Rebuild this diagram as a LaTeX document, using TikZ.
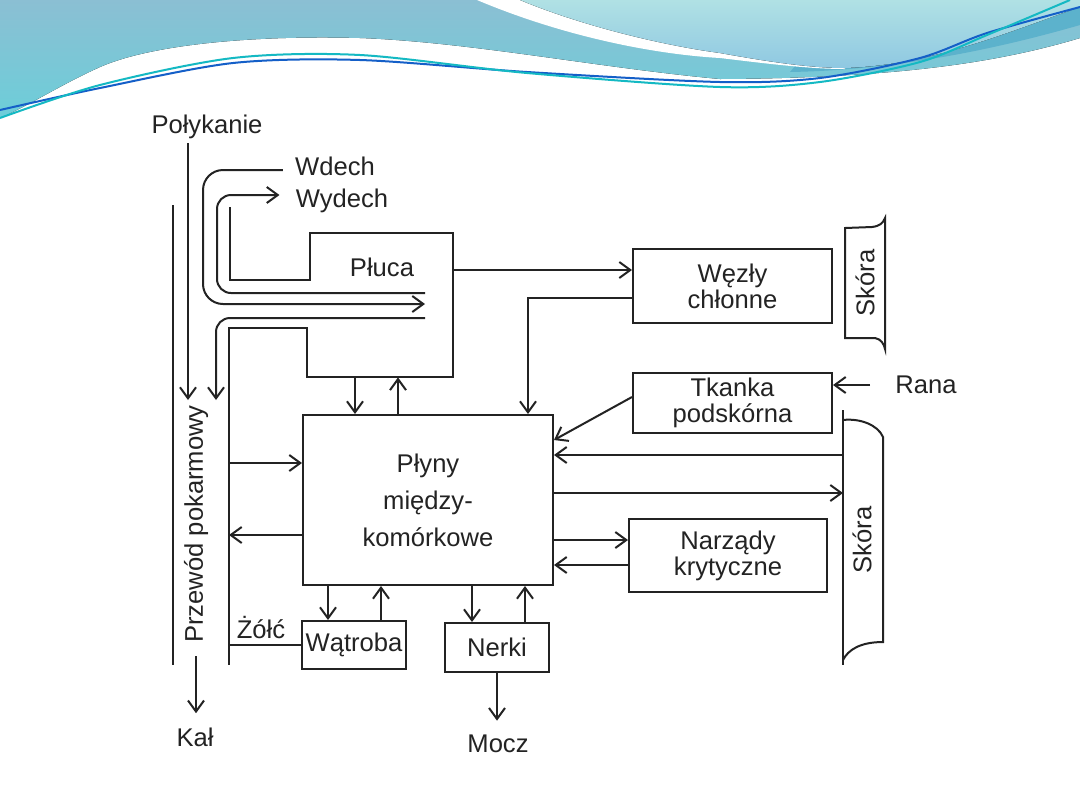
\documentclass[tikz,border=0pt]{standalone}
\usepackage{fontspec}
\setmainfont{Liberation Sans}
\usetikzlibrary{arrows.meta,calc}
\definecolor{inkcolor}{RGB}{35,35,35}
\definecolor{waveTop}{RGB}{139,191,211}
\definecolor{waveLow}{RGB}{108,206,217}
\definecolor{waveBand}{RGB}{92,178,204}
\definecolor{paleTop}{RGB}{176,225,228}
\definecolor{paleLow}{RGB}{143,200,226}
\definecolor{lineTeal}{RGB}{20,185,195}
\definecolor{lineBlue}{RGB}{20,95,200}

\tikzset{
  box/.style={draw=inkcolor, line width=1pt, inner sep=0pt, align=center, text=inkcolor,
    font=\fontsize{12.8}{13}\selectfont},
  lbl/.style={text=inkcolor, font=\fontsize{12.8}{13}\selectfont, inner sep=2pt},
  arr/.style={-{Straight Barb[length=5.5pt,width=8pt]}, draw=inkcolor, line width=1pt},
  wall/.style={draw=inkcolor, line width=1pt},
}

\begin{document}
\begin{tikzpicture}[x=0.5pt, y=-0.5pt]
\useasboundingbox (0,0) rectangle (1080,810);
\fill[white] (0,0) rectangle (1080,810);

% ================= HEADER WAVES =================
\fill[top color=waveTop, bottom color=waveLow]
  (0,0) -- (1080,0) -- (1080,38) .. controls (1000,62) and (900,78) .. (720,79)
  .. controls (600,68) and (470,42) .. (360,38) .. controls (250,35) and (150,45) .. (100,67)
  .. controls (60,85) and (30,105) .. (0,118) -- cycle;
\fill[waveBand] (790,72) .. controls (900,70) and (1000,48) .. (1080,25) -- (1080,0) -- (850,0) -- cycle;
\fill[white] (477,0) .. controls (560,35) and (650,54) .. (720,58)
  .. controls (770,64) and (810,69) .. (845,69) -- (845,0) -- cycle;
\fill[top color=paleTop, bottom color=paleLow]
  (520,0) .. controls (580,25) and (660,45) .. (720,53) .. controls (770,62) and (810,68) .. (845,68)
  .. controls (930,65) and (1000,35) .. (1080,7) -- (1080,0) -- cycle;
\draw[lineBlue, line width=1pt] plot[smooth] coordinates
  {(0,110) (100,88) (233,63) (360,60) (527,72) (720,82) (820,78) (920,58) (987,33) (1080,7)};
\draw[lineTeal, line width=1pt] plot[smooth] coordinates
  {(0,118) (100,85) (233,58) (360,55) (527,73) (720,87) (820,82) (920,62) (987,35) (1070,0)};

% ================= BOXES =================
\node[box, minimum width=125pt, minimum height=85pt, font=\fontsize{12.8}{18.5}\selectfont]
  (plyny) at (428,500) {Płyny\\między-\\komórkowe};
\node[box, minimum width=52pt, minimum height=24pt] (watroba) at (354,645) {Wątroba};
\node[box, minimum width=52pt, minimum height=24.5pt] (nerki) at (497,647.5) {Nerki};
\node[box, minimum width=99.5pt, minimum height=37pt] (wezly) at (732.5,286) {Węzły\\chłonne};
\node[box, minimum width=99.5pt, minimum height=30pt] (tkanka) at (732.5,403) {Tkanka\\podskórna};
\node[box, minimum width=99pt, minimum height=36.5pt] (narzady) at (728,555.5) {Narządy\\krytyczne};
\node[minimum width=73pt, minimum height=72pt, inner sep=0pt] (pluca) at (380,305) {};

% ================= LABELS =================
\node[lbl] (polykanie) at (207,127) {Połykanie};
\node[lbl] (wdech) at (335,166) {Wdech};
\node[lbl] (wydech) at (342,201) {Wydech};
\node[lbl] (plucaLbl) at (382,267) {Płuca};
\node[lbl] (rana) at (926,385) {Rana};
\node[lbl] (zolc) at (261,628) {Żółć};
\node[lbl] (kal) at (195,737) {Kał};
\node[lbl] (mocz) at (498,744) {Mocz};
\node[lbl, rotate=90] (przewod) at (196,524) {Przewód pokarmowy};
\node[lbl, rotate=90] (skora1) at (865,283) {Skóra};
\node[lbl, rotate=90] (skora2) at (862,540) {Skóra};

% ================= GUT AND LUNG WALLS =================
\coordinate (tubeR) at (229,665);
\coordinate (skinL) at (843,540);
\draw[wall] (173,205) -- (173,665);
\draw[wall] (230,207) -- (230,280) -- (310,280) -- (310,233) -- (453,233) -- (453,377)
  -- (307,377) -- (307,328) -- (229,328) -- (tubeR);

% skin
\draw[wall] (845,228) -- (845,338) -- (875,338) .. controls (881,339) and (884,344) .. (885,349)
  -- (885,218) .. controls (883,223) and (880,226) .. (872,227) -- cycle;
\draw[wall] (843,410) -- (843,665);
\draw[wall] (843,420) .. controls (860,418) and (878,425) .. (883,437) -- (883,642)
  .. controls (860,642) and (848,650) .. (843,660);

% airways
\draw[arr, rounded corners=10pt] ([shift={(-4pt,-2pt)}]wdech.west) -| (203,304) -- (425,304);
\draw[arr, rounded corners=7pt] (425,293) -| (217,195) -- ([shift={(-6pt,3pt)}]wydech.west);
\coordinate (gutB) at (216,400);
\draw[arr, rounded corners=7pt] (425,318) -| (gutB);
\coordinate (gutA) at (188,400);
\draw[arr] ([xshift=-9.5pt]polykanie.south) -- (gutA);
\draw[arr, shorten <=4.5pt, shorten >=5pt] (przewod.west) -- (przewod.west |- kal.north);

% ================= CONNECTORS =================
\draw[arr] ([xshift=-12.5pt]pluca.south) -- ([xshift=-12.5pt]pluca.south |- plyny.north);
\draw[arr] ([xshift=9pt]pluca.south |- plyny.north) -- ([xshift=9pt]pluca.south);
\draw[arr] ([yshift=8pt]wezly.west -| pluca.east) -- ([yshift=8pt]wezly.west);
\draw[arr] ([yshift=-6pt]wezly.west) -| ([xshift=50pt]plyny.north);

\draw[arr] ([yshift=18.5pt]plyny.west -| tubeR) -- ([yshift=18.5pt]plyny.west);
\draw[arr] ([yshift=-17.5pt]plyny.west) -- ([yshift=-17.5pt]plyny.west -| tubeR);
\draw[wall] (watroba.west) -- (watroba.west -| tubeR);

\draw[arr] ([xshift=-13pt]watroba.north |- plyny.south) -- ([xshift=-13pt]watroba.north);
\draw[arr] ([xshift=13.5pt]watroba.north) -- ([xshift=13.5pt]watroba.north |- plyny.south);
\draw[arr] ([xshift=-12.5pt]nerki.north |- plyny.south) -- ([xshift=-12.5pt]nerki.north);
\draw[arr] ([xshift=14pt]nerki.north) -- ([xshift=14pt]nerki.north |- plyny.south);
\draw[arr, shorten >=5pt] (nerki.south) -- (nerki.south |- mocz.north);

\draw[arr] ([xshift=-10.5pt]rana.west) -- (rana.west -| tkanka.east);
\draw[arr] ([yshift=3pt]tkanka.west) -- ([yshift=30pt]plyny.east);
\draw[arr] ([yshift=22.5pt]plyny.east -| skinL) -- ([yshift=22.5pt]plyny.east);
\draw[arr] ([yshift=3.5pt]plyny.east) -- ([yshift=3.5pt]plyny.east -| skinL);
\draw[arr] ([yshift=7.75pt]narzady.west -| plyny.east) -- ([yshift=7.75pt]narzady.west);
\draw[arr] ([yshift=-4.75pt]narzady.west) -- ([yshift=-4.75pt]narzady.west -| plyny.east);

\end{tikzpicture}
\end{document}
